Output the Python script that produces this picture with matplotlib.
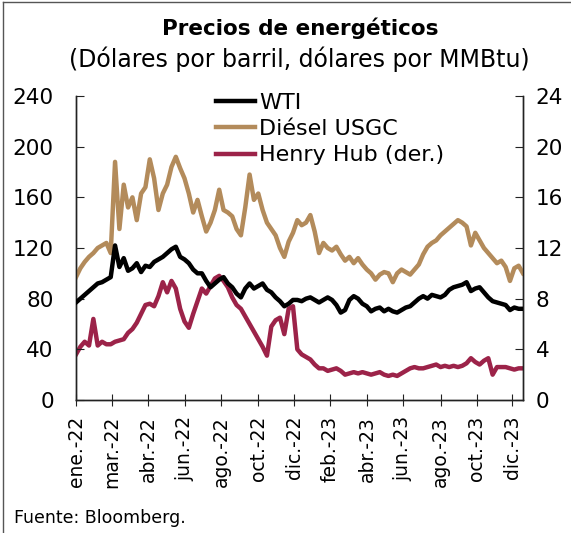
import pandas as pd
import matplotlib
matplotlib.use("Agg")
import matplotlib.pyplot as plt
from matplotlib.lines import Line2D

# Weekly values (week starting 2022-01-03)
wti = [77, 80, 83, 86, 89, 92, 93, 95, 97, 122,
       105, 112, 102, 104, 108, 101, 106, 105, 109, 111,
       113, 116, 119, 121, 113, 111, 108, 103, 100, 100,
       94, 89, 92, 95, 97, 92, 89, 84, 81, 88,
       92, 88, 90, 92, 87, 85, 81, 78, 74, 76,
       79, 79, 78, 80, 81, 79, 77, 79, 81, 79,
       75, 69, 71, 79, 82, 80, 76, 74, 70, 72,
       73, 70, 72, 70, 69, 71, 73, 74, 77, 80,
       82, 80, 83, 82, 81, 83, 87, 89, 90, 91,
       93, 86, 88, 89, 85, 81, 78, 77, 76, 75,
       71, 73, 72, 72]

diesel = [97, 104, 109, 113, 116, 120, 122, 124, 116, 188,
          135, 170, 152, 160, 142, 163, 168, 190, 175, 150,
          163, 170, 184, 192, 183, 175, 163, 148, 158, 145,
          133, 140, 150, 166, 150, 148, 145, 135, 130, 152,
          178, 158, 163, 150, 140, 135, 130, 120, 113, 125,
          132, 142, 138, 140, 146, 133, 116, 124, 120, 118,
          121, 115, 110, 113, 108, 112, 107, 103, 100, 95,
          99, 101, 100, 93, 100, 103, 101, 99, 103, 107,
          115, 121, 124, 126, 130, 133, 136, 139, 142, 140,
          137, 122, 132, 126, 120, 116, 112, 108, 110, 105,
          94, 104, 106, 100]

henry_hub = [3.6, 4.2, 4.6, 4.3, 6.4, 4.3, 4.6, 4.4, 4.4, 4.6,
             4.7, 4.8, 5.3, 5.6, 6.1, 6.8, 7.5, 7.6, 7.4, 8.2,
             9.3, 8.5, 9.4, 8.8, 7.2, 6.2, 5.7, 6.8, 7.8, 8.8,
             8.4, 9.0, 9.6, 9.8, 9.4, 8.9, 8.1, 7.5, 7.2, 6.6,
             6.0, 5.4, 4.8, 4.2, 3.5, 5.8, 6.3, 6.5, 5.2, 7.2,
             7.4, 4.0, 3.6, 3.4, 3.2, 2.8, 2.5, 2.5, 2.3, 2.4,
             2.5, 2.3, 2.0, 2.1, 2.2, 2.1, 2.2, 2.1, 2.0, 2.1,
             2.2, 2.0, 1.9, 2.0, 1.9, 2.1, 2.3, 2.5, 2.6, 2.5,
             2.5, 2.6, 2.7, 2.8, 2.6, 2.7, 2.6, 2.7, 2.6, 2.7,
             2.9, 3.3, 3.0, 2.8, 3.1, 3.3, 2.0, 2.6, 2.6, 2.6,
             2.5, 2.4, 2.5, 2.5]

dates = pd.date_range("2022-01-03", periods=len(wti), freq="7D")
meses = ["ene.", "feb.", "mar.", "abr.", "may.", "jun.",
         "jul.", "ago.", "sep.", "oct.", "nov.", "dic."]

# ticks every 42 trading days
tick_dates = pd.bdate_range("2022-01-03", "2023-12-29")[::42]
tick_labels = [f"{meses[d.month - 1]}-{d:%y}" for d in tick_dates]

c_wti = "#000000"
c_diesel = "#B38B5B"
c_hh = "#9C2349"

plt.rcParams["font.family"] = ["DejaVu Sans"]

fig = plt.figure(figsize=(5.71, 5.33), dpi=100)
ax = fig.add_axes([76 / 571, 1 - 400 / 533, 447 / 571, 304 / 533])
ax2 = ax.twinx()

ax.plot(dates, wti, color=c_wti, lw=3.2, zorder=3)
ax.plot(dates, diesel, color=c_diesel, lw=3.2, zorder=2)
ax2.plot(dates, henry_hub, color=c_hh, lw=3.2)
ax.set_zorder(ax2.get_zorder() + 1)
ax.patch.set_visible(False)

ax.set_xlim(dates[0], dates[-1])
ax.set_ylim(0, 240)
ax2.set_ylim(0, 24)
ax.set_yticks(range(0, 241, 40))
ax2.set_yticks(range(0, 25, 4))
ax.set_xticks(tick_dates)
ax.set_xticklabels(tick_labels, rotation=90)

for a in (ax, ax2):
    a.spines["top"].set_visible(False)
    for s in a.spines.values():
        s.set_color("#222222")
        s.set_linewidth(1)
ax.tick_params(axis="y", direction="in", length=6, pad=16, labelsize=15.5, color="#222222")
ax2.tick_params(axis="y", direction="in", length=6, pad=9, labelsize=15.5, color="#222222")
ax.tick_params(axis="x", direction="inout", length=9, pad=7, labelsize=13.5, color="#222222")

handles = [Line2D([], [], color=c_wti, lw=3.2),
           Line2D([], [], color=c_diesel, lw=3.2),
           Line2D([], [], color=c_hh, lw=3.2)]
fig.legend(handles, ["WTI", "Diésel USGC", "Henry Hub (der.)"],
           loc="upper left", bbox_to_anchor=(216 / 571, 1 - 93 / 533),
           frameon=False, fontsize=16, handlelength=1.75, handletextpad=0.2,
           labelspacing=0.28, borderpad=0, borderaxespad=0)

fig.text(0.525, 1 - 28 / 533, "Precios de energéticos", ha="center", va="center",
         fontsize=15.5, fontweight="bold")
fig.text(0.525, 1 - 59 / 533, "(Dólares por barril, dólares por MMBtu)",
         ha="center", va="center", fontsize=17)
fig.text(14 / 571, 1 - 518 / 533, "Fuente: Bloomberg.", ha="left", va="center", fontsize=12.5)

# thin frame on left and top edges
fig.add_artist(Line2D([3 / 571, 3 / 571], [0, 1 - 2 / 533], transform=fig.transFigure,
                      color="#555555", lw=1))
fig.add_artist(Line2D([3 / 571, 1], [1 - 2 / 533, 1 - 2 / 533], transform=fig.transFigure,
                      color="#555555", lw=1))

fig.savefig("out.png", dpi=100)
